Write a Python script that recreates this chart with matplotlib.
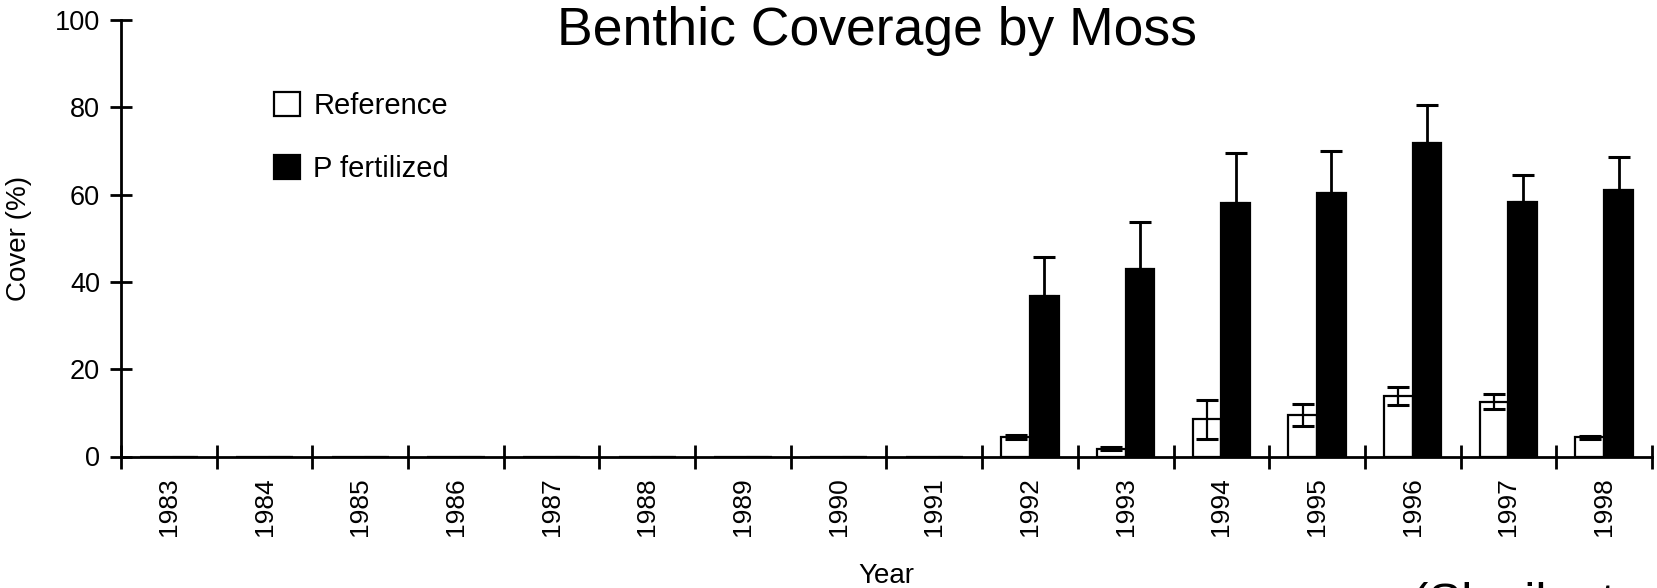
import matplotlib
matplotlib.use("Agg")
import matplotlib.pyplot as plt
import numpy as np

plt.rcParams['font.family'] = ['Liberation Sans', 'DejaVu Sans']

# data (mean cover % and upper error)
years = ['1983', '1984', '1985', '1986', '1987', '1988', '1989', '1990',
         '1991', '1992', '1993', '1994', '1995', '1996', '1997', '1998']
ref_cover = [0, 0, 0, 0, 0, 0, 0, 0, 0, 4.5, 1.8, 8.5, 9.5, 13.8, 12.6, 4.4]
ref_err = [np.nan] * 9 + [0.4, 0.3, 4.4, 2.6, 2.1, 1.8, 0.4]
fert_cover = [0, 0, 0, 0, 0, 0, 0, 0, 0, 36.8, 43.0, 58.1, 60.3, 71.9, 58.3, 61.1]
fert_err = [np.nan] * 9 + [8.8, 10.8, 11.4, 9.7, 8.6, 6.2, 7.4]
yticks = [0, 20, 40, 60, 80, 100]

W, H = 1658, 588
fig = plt.figure(figsize=(W / 100, H / 100), dpi=100)
ax = fig.add_axes([121 / W, 1 - 456.5 / H, 1531 / W, 436.5 / H])

x = np.arange(len(years))
bw = 0.3
b_ref = ax.bar(x - bw / 2, ref_cover, bw, color='white', edgecolor='black', linewidth=1.6, zorder=2)
b_fert = ax.bar(x + bw / 2, fert_cover, bw, color='black', edgecolor='black', linewidth=1.6, zorder=2)
ax.errorbar(x - bw / 2, ref_cover, yerr=ref_err, fmt='none', ecolor='black',
            elinewidth=1.6, capsize=8, capthick=2.2, zorder=3)
ax.errorbar(x + bw / 2, fert_cover, yerr=[np.zeros(len(x)), fert_err], fmt='none',
            ecolor='black', elinewidth=2, capsize=8, capthick=2.2, zorder=3)

ax.set_xlim(-0.5, len(years) - 0.5)
ax.set_ylim(0, 100)
for s in ['top', 'right']:
    ax.spines[s].set_visible(False)
for s in ['left', 'bottom']:
    ax.spines[s].set_linewidth(2)

ax.set_yticks(yticks)
ax.tick_params(axis='y', direction='inout', length=16, width=2, pad=7, labelsize=19.5)
ax.set_xticks(x)
ax.set_xticklabels(years, rotation=90)
ax.set_xticks(np.arange(len(years) + 1) - 0.5, minor=True)
ax.tick_params(axis='x', which='major', length=0, pad=15, labelsize=19)
ax.tick_params(axis='x', which='minor', direction='inout', length=17, width=2)

ax.legend([b_ref, b_fert], ['Reference', 'P fertilized'], loc='upper left',
          bbox_to_anchor=(274 / W, 1 - 92 / H), bbox_transform=fig.transFigure,
          frameon=False, fontsize=21, handlelength=0.9, handleheight=0.9,
          handletextpad=0.45, labelspacing=1.2, borderpad=0, borderaxespad=0)

fig.text(19 / W, 1 - 238 / H, 'Cover (%)', rotation=90, ha='center', va='center', fontsize=20)
fig.text(886 / W, 1 - 583 / H, 'Year', ha='center', va='baseline', fontsize=20)
fig.text(877 / W, 1 - 45 / H, 'Benthic Coverage by Moss', ha='center', va='baseline', fontsize=38.5)
fig.text(1412 / W, 1 - 617 / H, '(Slavik et al., 2004)', ha='left', va='baseline', fontsize=35.5)

fig.savefig('out.png', dpi=100)
